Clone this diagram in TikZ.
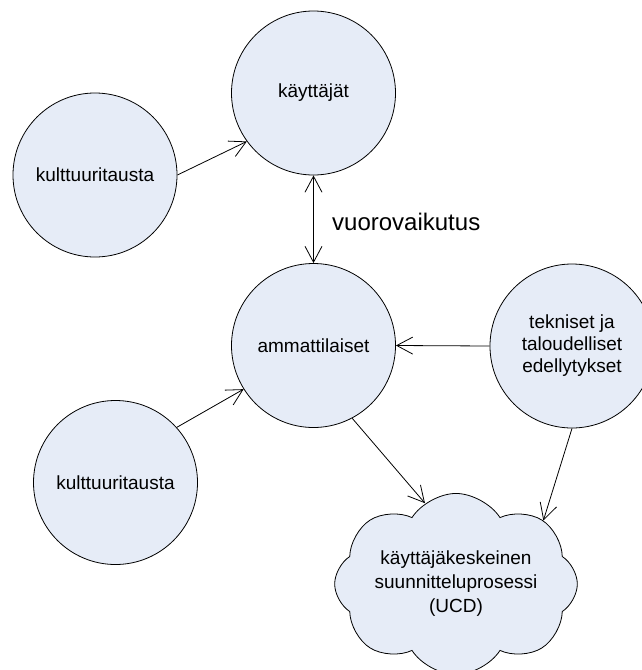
\documentclass[tikz,border=0pt]{standalone}
\usepackage{fontspec}
\setmainfont{Liberation Sans}
\usetikzlibrary{arrows.meta,shapes.symbols}
\definecolor{bubble}{RGB}{230,236,247}
\begin{document}
\begin{tikzpicture}[x=1pt,y=-1pt,
  bubblenode/.style={circle,draw=black,line width=0.8pt,fill=bubble,
    minimum size=164pt,inner sep=0pt,align=center,
    font=\fontsize{19}{22}\selectfont},
  cloudnode/.style={cloud,cloud puffs=8,cloud puff arc=115,aspect=1.6,
    draw=black,line width=0.8pt,fill=bubble,minimum width=226pt,
    minimum height=148pt,inner sep=0pt,align=center,
    font=\fontsize{19}{24}\selectfont},
  link/.style={line width=0.8pt,-{Straight Barb[length=16pt,width=17pt,line width=0.8pt]}},
  twoway/.style={line width=0.8pt,{Straight Barb[length=16pt,width=17pt,line width=0.8pt]}-{Straight Barb[length=16pt,width=17pt,line width=0.8pt]}}]
\useasboundingbox (0,0) rectangle (641,670);

% actors and influences
\node[bubblenode] (users) at (313.5,93) {käyttäjät};
\node[bubblenode] (cultA) at (95,175) {kulttuuritausta};
\node[bubblenode] (pros) at (313.5,345.5) {ammattilaiset};
\node[bubblenode] (tech) at (572,346) {tekniset ja\\taloudelliset\\edellytykset};
\node[bubblenode] (cultB) at (115.5,482.5) {kulttuuritausta};

% design process
\node[cloudnode] (ucd) at (456,584) {käyttäjäkeskeinen\\suunnitteluprosessi\\(UCD)};

% interaction label
\node[anchor=west,inner sep=0pt,font=\fontsize{24}{28}\selectfont] (inter) at (332,222) {vuorovaikutus};

% connectors
\draw[link] (cultA.east) -- (users.216);
\draw[twoway] (users.south) -- (pros.north);
\draw[link] (tech.west) -- (pros.east);
\draw[link] (cultB.42.6) -- (pros.212.6);
\draw[link] (pros.298) -- (ucd.111);
\draw[link] (tech.south) -- (ucd.36);
\end{tikzpicture}
\end{document}
